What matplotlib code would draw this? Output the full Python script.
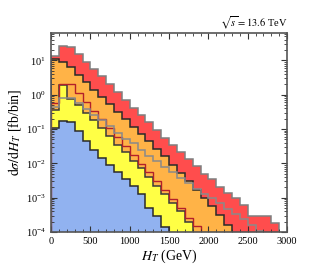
import numpy as np
import matplotlib
matplotlib.use("Agg")
import matplotlib.pyplot as plt
from matplotlib.ticker import LogLocator, MultipleLocator, NullFormatter

plt.rcParams['font.family'] = ['Liberation Serif', 'DejaVu Serif']
plt.rcParams['mathtext.fontset'] = 'stix'

bin_width = 100  # GeV

# d sigma / d H_T in fb/bin (bins start at 0 GeV)
red = [13.2, 26.3, 24.0, 15.1, 9.1, 5.5, 3.4, 2.0, 1.2, 0.68, 0.42, 0.26, 0.16,
       0.095, 0.056, 0.034, 0.021, 0.013, 8.3e-3, 5.0e-3, 3.4e-3, 2.0e-3,
       1.35e-3, 1.0e-3, 6.3e-4, 3.0e-4, 3.0e-4, 3.0e-4, 1.8e-4]
orange = [11.2, 9.1, 6.3, 3.8, 2.3, 1.41, 0.85, 0.52, 0.32, 0.195, 0.117, 0.071,
          0.044, 0.026, 0.016, 9.0e-3, 5.3e-3, 3.0e-3, 1.7e-3, 1.0e-3, 5.6e-4,
          3.2e-4, 1.6e-4]
yellow = [0.355, 1.9, 0.76, 0.50, 0.30, 0.18, 0.105, 0.063, 0.035, 0.021, 0.012,
          7.1e-3, 4.0e-3, 2.2e-3, 1.26e-3, 7.1e-4, 4.0e-4, 2.0e-4]
blue = [0.107, 0.166, 0.158, 0.089, 0.045, 0.025, 0.014, 8.9e-3, 5.6e-3, 3.5e-3,
        2.2e-3, 1.26e-3, 5.0e-4, 3.0e-4, 1.4e-4]
darkred_line = [0.56, 2.1, 2.1, 1.12, 0.60, 0.33, 0.20, 0.105, 0.060, 0.033, 0.018,
                9.5e-3, 5.6e-3, 3.0e-3, 1.66e-3, 8.9e-4, 5.0e-4, 2.6e-4, 1.5e-4, 8e-5]
gray_line = [0.45, 0.79, 0.79, 0.56, 0.38, 0.25, 0.178, 0.12, 0.079, 0.052, 0.038,
             0.025, 0.0166, 0.012, 7.9e-3, 5.6e-3, 3.8e-3, 2.6e-3, 1.85e-3, 1.3e-3,
             9.5e-4, 6.8e-4, 4.8e-4, 3.4e-4, 2.4e-4, 1.6e-4, 1.1e-4]

xticks = [0, 500, 1000, 1500, 2000, 2500, 3000]

fig = plt.figure(figsize=(3.19, 2.77), dpi=100)
ax = fig.add_axes([0.160, 0.1625, 0.740, 0.7185])
floor = 1e-6


def edges_for(vals):
    return np.arange(len(vals) + 1) * bin_width


# filled histograms, back to front
for vals, fc, ec in [(red, '#ff4d4d', '#7f7f7f'),
                     (orange, '#ffb347', '#2a2a2a'),
                     (yellow, '#ffff45', '#3a3a3a'),
                     (blue, '#91b2f0', '#2a2a2a')]:
    e = edges_for(vals)
    ax.stairs(vals, e, baseline=floor, fill=True, color=fc, lw=0)
    ax.stairs(vals, e, baseline=floor, fill=False, color=ec, lw=1.1)

# unfilled lines
ax.stairs(darkred_line, edges_for(darkred_line), baseline=floor, color='#b3202a', lw=1.0)
ax.stairs(gray_line, edges_for(gray_line), baseline=floor, color='#8a8a8a', lw=1.1)

ax.set_yscale('log')
ax.set_xlim(0, 3000)
ax.set_ylim(1e-4, 63)
ax.set_xticks(xticks)
ax.xaxis.set_minor_locator(MultipleLocator(100))
ax.yaxis.set_major_locator(LogLocator(base=10, numticks=20))
ax.yaxis.set_minor_locator(LogLocator(base=10, subs=np.arange(2, 10), numticks=20))
ax.yaxis.set_minor_formatter(NullFormatter())
ax.tick_params(which='both', direction='in', top=True, right=True,
               labelsize=7.5, color='#333333')
ax.tick_params(which='major', length=4.5, width=0.8)
ax.tick_params(which='minor', length=2.5, width=0.6)
for s in ax.spines.values():
    s.set_linewidth(1.2)
    s.set_color('#555555')

ax.set_xlabel(r'$H_T$ (GeV)', fontsize=10, labelpad=1)
ax.set_ylabel(r'$\mathrm{d}\sigma/\mathrm{d}H_T$ [fb/bin]', fontsize=10, labelpad=2)
ax.text(1.0, 1.01, r'$\sqrt{s}=13.6$ TeV', transform=ax.transAxes,
        ha='right', va='bottom', fontsize=7.5)

fig.savefig('out.png', dpi=100)
